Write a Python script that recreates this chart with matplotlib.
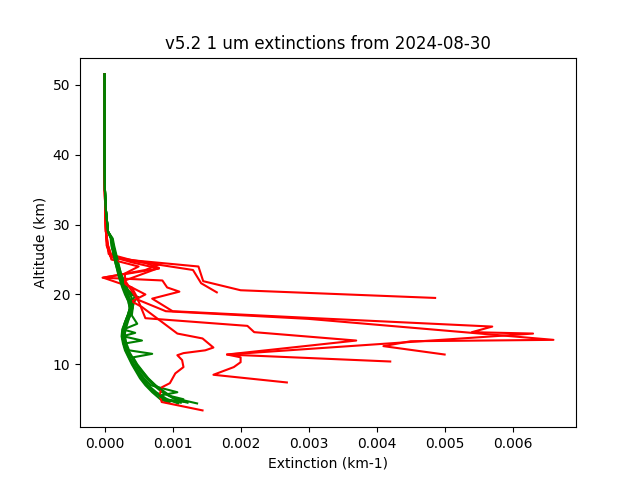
import matplotlib
matplotlib.use('Agg')
import matplotlib.pyplot as plt

# shared upper part of every profile (altitude km, extinction km-1)
top_alt = [51.5, 45, 40, 35, 32, 29]
red_top = [0, 0, 0, 0.000003, 0.00001, 0.00002]
green_top = [0, 0, 0, 0.000005, 0.00002, 0.00005]

# red profiles
red_alt = [
    [27, 25.8, 24.9, 24.0, 21.9, 20.6, 19.5],
    [27, 25.6, 25.0, 23.5, 21.6, 20.3],
    [27, 25.5, 24.6, 23.7, 22.4, 22.0, 21.0, 20.4, 19.4, 17.6, 16.6, 15.4, 14.6, 14.4,
     11.4, 11.0, 10.3, 9.6, 8.5, 7.4],
    [27, 25.4, 24.3, 23.5, 22.4, 21.0, 19.2, 17.6, 16.5, 13.5, 13.3, 12.6, 11.4],
    [27, 25.3, 24.5, 23.8, 22.0, 20.5, 19.0, 16.6, 15.5, 14.6, 13.4, 11.4, 10.4],
    [27, 25.0, 24.0, 23.0, 21.5, 20.0, 19.0, 18.2, 14.4, 13.7, 12.4, 12.0, 11.6,
     11.3, 10.6, 9.6, 8.7, 7.3, 6.7, 5.6, 4.6, 3.4],
]
red_ext = [
    [0.00004, 0.00006, 0.0004, 0.00138, 0.00145, 0.002, 0.00486],
    [0.00005, 0.0001, 0.0003, 0.0013, 0.00142, 0.00165],
    [0.00004, 0.00008, 0.0004, 0.0008, -0.00003, 0.00085, 0.00092, 0.0011, 0.0007, 0.0010,
     0.0031, 0.0057, 0.0054, 0.0063, 0.0018, 0.0020, 0.0020, 0.0019, 0.0016, 0.00268],
    [0.00005, 0.0001, 0.0008, 0.0006, -0.00002, 0.0004, 0.0005, 0.0009, 0.0030,
     0.0066, 0.0045, 0.0041, 0.0050],
    [0.00003, 0.0001, 0.0006, 0.0008, 0.0003, 0.0004, 0.0005, 0.0006, 0.0021,
     0.0022, 0.0037, 0.0018, 0.0042],
    [0.00004, 0.0001, 0.0005, 0.0003, 0.0003, 0.0006, 0.0004, 0.00055, 0.00107,
     0.00144, 0.0016, 0.00148, 0.00116, 0.00107, 0.00114, 0.00116, 0.00104,
     0.00096, 0.00084, 0.00081, 0.00084, 0.00144],
]

# green profiles
green_alt = [
    [28, 27, 25, 23.5, 22, 20.5, 19.5, 18.5, 17.5, 16, 15, 14, 13, 12, 11, 10, 9, 8, 7, 6, 5, 4.5],
    [28, 27, 25, 23, 21.5, 20, 19.6, 19.2, 18.5, 17, 16, 15, 14, 13.4, 13, 12, 11, 10, 9, 8, 7, 6, 5.2, 4.4],
    [28, 27, 25, 23, 21, 20, 19, 18, 17, 16, 15, 14, 13, 12, 11.5, 11, 10, 9, 8, 7, 6, 5.5, 5.0, 4.6],
    [28, 26.5, 24.5, 22.5, 21, 19.8, 19.0, 18, 17, 16, 15, 14, 13, 12, 11, 10, 9, 8, 7, 6.0, 5.5, 4.8],
    [28, 27, 25, 23, 21.5, 20.5, 19.5, 18.5, 17, 15.8, 15, 14, 13, 12, 11, 10, 9, 8, 7, 6, 5, 4.4],
    [28, 26.5, 24.5, 22.5, 21, 20, 19, 18, 17, 16, 15, 14.5, 14, 13, 12, 11, 10, 9, 8, 7, 6, 5, 4.6],
    [28, 27, 25, 23, 21, 20, 19, 18, 17, 16, 15, 14, 13, 12, 11, 10, 9, 8, 7, 6, 5.1, 4.5],
    [28, 26.5, 24.5, 22.5, 21, 20, 19, 18, 17, 16, 15, 14, 13, 12, 11, 10, 9, 8, 7, 6, 5, 4.5],
]
green_ext = [
    [0.0001, 0.00011, 0.00016, 0.0002, 0.00025, 0.00032, 0.00036, 0.00038, 0.00036, 0.0003, 0.00026, 0.00025,
     0.00027, 0.0003, 0.00035, 0.0004, 0.00046, 0.00052, 0.0006, 0.0007, 0.00082, 0.00095],
    [0.00011, 0.00013, 0.00018, 0.00024, 0.0003, 0.00038, 0.0005, 0.00045, 0.00042, 0.00038, 0.00033, 0.00029,
     0.00028, 0.00055, 0.00031, 0.00034, 0.0004, 0.00046, 0.00053, 0.00062, 0.00072, 0.00085, 0.001, 0.00136],
    [0.00009, 0.0001, 0.00015, 0.00022, 0.00028, 0.00033, 0.00037, 0.00039, 0.00035, 0.00032, 0.0003, 0.0003,
     0.00032, 0.00036, 0.0007, 0.00042, 0.00048, 0.00056, 0.00064, 0.00074, 0.00085, 0.00095, 0.00116, 0.0009],
    [0.0001, 0.00012, 0.00017, 0.00023, 0.00029, 0.00045, 0.00040, 0.00041, 0.00037, 0.00034, 0.00031, 0.00029,
     0.0003, 0.00033, 0.00037, 0.00043, 0.0005, 0.00058, 0.00068, 0.00107, 0.0008, 0.00092],
    [0.00012, 0.00014, 0.00019, 0.00024, 0.0003, 0.00034, 0.0004, 0.00042, 0.0004, 0.00048, 0.00028, 0.00026,
     0.00028, 0.00031, 0.00036, 0.00042, 0.00049, 0.00056, 0.00064, 0.00076, 0.00092, 0.00108],
    [0.0001, 0.00012, 0.00016, 0.00022, 0.00028, 0.00031, 0.00035, 0.00037, 0.00034, 0.0003, 0.00027, 0.00045,
     0.00026, 0.00028, 0.00032, 0.00036, 0.00041, 0.00047, 0.00055, 0.00063, 0.00074, 0.00088, 0.00118],
    [0.00011, 0.00013, 0.00017, 0.00023, 0.00029, 0.00034, 0.00039, 0.0004, 0.00036, 0.00031, 0.00028, 0.00028,
     0.0003, 0.00035, 0.00041, 0.00047, 0.00055, 0.00064, 0.00075, 0.00089, 0.00102, 0.00122],
    [0.0001, 0.00012, 0.00016, 0.00021, 0.00026, 0.0003, 0.00035, 0.00037, 0.00034, 0.0003, 0.00027, 0.00026,
     0.00028, 0.00031, 0.00036, 0.00042, 0.00048, 0.00054, 0.00062, 0.00073, 0.00088, 0.00112],
]

plt.figure(figsize=(6.4, 4.8), dpi=100)

# one red and one green per event, drawn in turn
for i in range(max(len(red_alt), len(green_alt))):
    if i < len(red_alt):
        plt.plot(red_top + red_ext[i], top_alt + red_alt[i], color='red')
    if i < len(green_alt):
        plt.plot(green_top + green_ext[i], top_alt + green_alt[i], color='green')

plt.title('v5.2 1 um extinctions from 2024-08-30')
plt.xlabel('Extinction (km-1)')
plt.ylabel('Altitude (km)')
plt.savefig('out.png')
